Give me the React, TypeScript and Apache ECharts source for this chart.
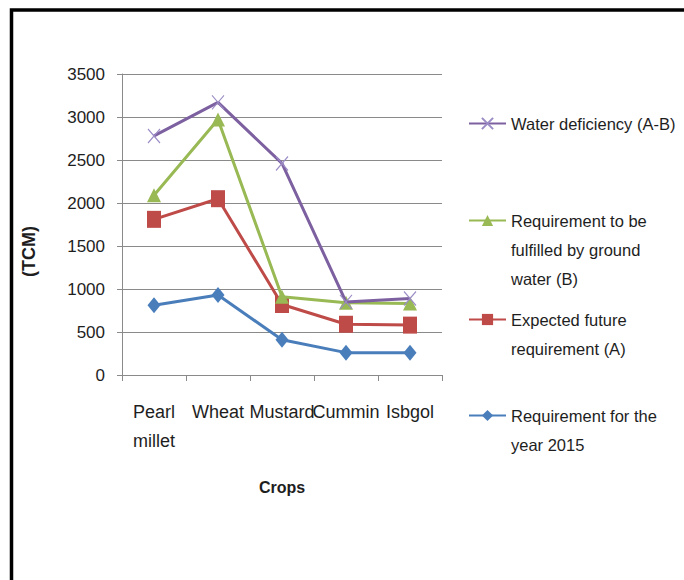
import React, { useEffect, useRef } from "react";
import * as echarts from "echarts";

// Crop water requirement (TCM)
const crops = ["Pearl millet", "Wheat", "Mustard", "Cummin", "Isbgol"];
const yTicks = { min: 0, max: 3500, interval: 500 };

const requirement2015 = [810, 930, 410, 260, 260];
const expectedFutureA = [1810, 2050, 820, 590, 580];
const groundWaterB = [2090, 2970, 910, 840, 830];
const deficiencyAB = [2780, 3170, 2460, 850, 890];

const seriesNames = [
  "Requirement for the year 2015",
  "Expected future requirement (A)",
  "Requirement to be fulfilled by ground water (B)",
  "Water deficiency (A-B)",
];

// wrapped legend / category texts
const legendLines: Record<string, string[]> = {
  "Water deficiency (A-B)": ["Water deficiency (A-B)"],
  "Requirement to be fulfilled by ground water (B)": [
    "Requirement to be",
    "fulfilled by ground",
    "water (B)",
  ],
  "Expected future requirement (A)": ["Expected future", "requirement (A)"],
  "Requirement for the year 2015": ["Requirement for the", "year 2015"],
};
const categoryText: Record<string, string> = { "Pearl millet": "Pearl\nmillet" };

const FONT = "'Liberation Sans', Arial, sans-serif";
const TEXT = "#1e1e1e";
const GRID_GRAY = "#8a8a8a";

export default function App() {
  const ref = useRef<HTMLDivElement>(null);

  useEffect(() => {
    if (!ref.current) return;
    const chart = echarts.init(ref.current, undefined, { renderer: "svg" });

    const LINE_H = 29;
    // icon centre of each legend entry (top to bottom)
    const legendIconY = [123, 220, 319, 415];
    const legendOrder = [3, 2, 1, 0];

    const legends = legendOrder.map((si, k) => {
      const name = seriesNames[si];
      const lines = legendLines[name];
      // the label is centred on the icon, so blank lines above keep the first line level with it
      const blank = lines.length - 1;
      return {
        data: [name],
        orient: "vertical",
        left: 468,
        top: legendIconY[k] - 14 - blank * LINE_H,
        padding: 0,
        itemWidth: 37,
        itemHeight: 14,
        itemGap: 0,
        selectedMode: false,
        formatter: (n: string) => {
          const ls = legendLines[n] ?? [n];
          return "\n".repeat(ls.length - 1) + ls.join("\n");
        },
        textStyle: {
          fontFamily: FONT,
          fontSize: 16.5,
          color: TEXT,
          lineHeight: LINE_H,
        },
      };
    });

    chart.setOption({
      animation: false,
      backgroundColor: "#ffffff",
      textStyle: { fontFamily: FONT },
      graphic: [
        {
          type: "rect",
          shape: { x: 11.5, y: 10, width: 720, height: 620 },
          style: { fill: "none", stroke: "#000000", lineWidth: 3.5 },
          silent: true,
        },
      ],
      legend: legends,
      grid: { left: 122, right: 242, top: 74, bottom: 205, containLabel: false },
      xAxis: {
        type: "category",
        data: crops,
        boundaryGap: true,
        name: "Crops",
        nameLocation: "middle",
        nameGap: 104,
        nameTextStyle: { fontFamily: FONT, fontSize: 16, fontWeight: "bold", color: TEXT },
        axisLine: { show: true, lineStyle: { color: GRID_GRAY, width: 1 } },
        axisTick: { show: true, alignWithLabel: false, length: 6, lineStyle: { color: GRID_GRAY } },
        axisLabel: {
          interval: 0,
          margin: 22,
          fontFamily: FONT,
          fontSize: 18,
          color: TEXT,
          lineHeight: LINE_H,
          formatter: (v: string) => categoryText[v] ?? v,
        },
        splitLine: { show: false },
      },
      yAxis: {
        type: "value",
        min: yTicks.min,
        max: yTicks.max,
        interval: yTicks.interval,
        name: "(TCM)",
        nameLocation: "middle",
        nameRotate: 90,
        nameGap: 84,
        nameTextStyle: {
          fontFamily: FONT,
          fontSize: 18,
          fontWeight: "bold",
          color: TEXT,
          // right padding nudges the rotated title down the axis
          padding: [0, 54, 0, 0],
        },
        axisLine: { show: true, lineStyle: { color: GRID_GRAY, width: 1 } },
        axisTick: { show: true, length: 5, lineStyle: { color: GRID_GRAY } },
        axisLabel: {
          margin: 17,
          fontFamily: FONT,
          fontSize: 17,
          color: TEXT,
          formatter: (v: number) => String(v),
        },
        splitLine: { show: true, lineStyle: { color: GRID_GRAY, width: 1 } },
      },
      series: [
        {
          name: seriesNames[0],
          type: "line",
          data: requirement2015,
          symbol: "diamond",
          symbolSize: [13, 16],
          lineStyle: { color: "#4A7EBB", width: 3 },
          itemStyle: { color: "#4A7EBB" },
          z: 2,
        },
        {
          name: seriesNames[1],
          type: "line",
          data: expectedFutureA,
          symbol: "rect",
          symbolSize: [14, 17],
          lineStyle: { color: "#BE4B48", width: 3 },
          itemStyle: { color: "#BE4B48" },
          z: 3,
        },
        {
          name: seriesNames[2],
          type: "line",
          data: groundWaterB,
          symbol: "triangle",
          symbolSize: [14, 14],
          lineStyle: { color: "#98B954", width: 3 },
          itemStyle: { color: "#98B954" },
          z: 4,
        },
        {
          name: seriesNames[3],
          type: "line",
          data: deficiencyAB,
          symbol: "path://M0,0L10,10M10,0L0,10",
          symbolSize: [12, 14],
          symbolKeepAspect: false,
          lineStyle: { color: "#7D60A0", width: 3 },
          itemStyle: { color: "#9B8CC6", borderColor: "#9B8CC6", borderWidth: 1.2 },
          z: 5,
        },
      ],
    });

    return () => chart.dispose();
  }, []);

  return (
    <div
      ref={ref}
      style={{ position: "fixed", left: 0, top: 0, width: 684, height: 580, background: "#fff" }}
    />
  );
}
